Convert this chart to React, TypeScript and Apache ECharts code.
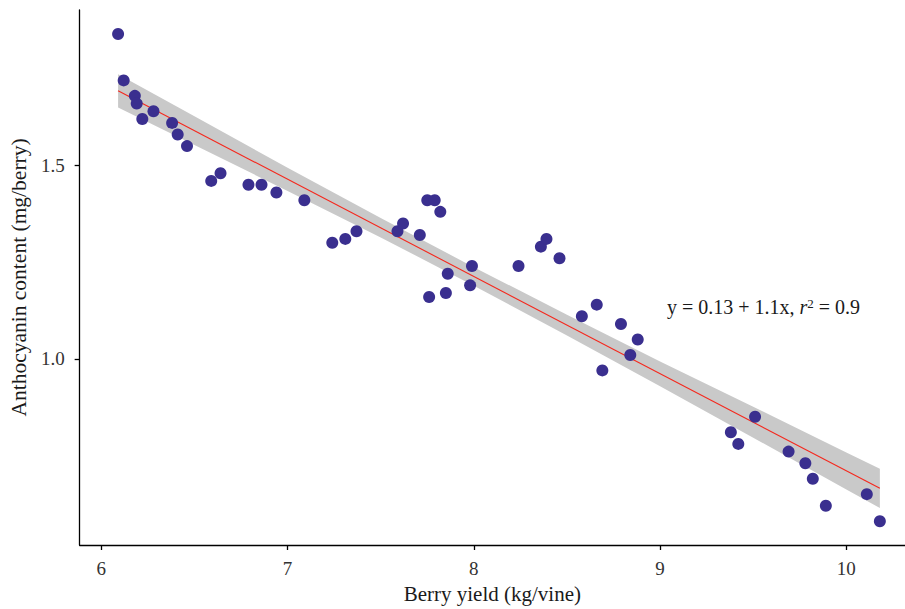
import React, { useEffect, useRef } from "react";
import * as echarts from "echarts";

// Observed points (berry yield kg/vine, anthocyanin mg/berry)
const yieldX = [6.09, 6.12, 6.18, 6.19, 6.22, 6.28, 6.38, 6.41, 6.46, 6.59, 6.64, 6.79, 6.86, 6.94, 7.09, 7.24, 7.31, 7.37, 7.59, 7.62, 7.71, 7.75, 7.79, 7.82, 7.76, 7.85, 7.86, 7.99, 7.98, 8.24, 8.36, 8.39, 8.46, 8.58, 8.66, 8.69, 8.79, 8.84, 8.88, 9.38, 9.42, 9.51, 9.69, 9.78, 9.82, 9.89, 10.11, 10.18];
const anthoY = [1.84, 1.72, 1.68, 1.66, 1.62, 1.64, 1.61, 1.58, 1.55, 1.46, 1.48, 1.45, 1.45, 1.43, 1.41, 1.30, 1.31, 1.33, 1.33, 1.35, 1.32, 1.41, 1.41, 1.38, 1.16, 1.17, 1.22, 1.24, 1.19, 1.24, 1.29, 1.31, 1.26, 1.11, 1.14, 0.97, 1.09, 1.01, 1.05, 0.81, 0.78, 0.85, 0.76, 0.73, 0.69, 0.62, 0.65, 0.58];

// Fitted line
const fitX = [6.09, 10.18];
const fitY = [1.693, 0.665];

// Confidence band
const bandX = [6.09, 6.5, 7, 7.5, 8, 8.5, 9, 9.5, 10, 10.18];
const bandUpper = [1.736, 1.627, 1.494, 1.364, 1.237, 1.114, 0.993, 0.876, 0.758, 0.716];
const bandLower = [1.650, 1.553, 1.434, 1.314, 1.189, 1.060, 0.929, 0.796, 0.662, 0.614];

const xTicks = [6, 7, 8, 9, 10];
const yTicks = [1.0, 1.5];

const xTitle = "Berry yield (kg/vine)";
const yTitle = "Anthocyanin content (mg/berry)";

const FONT = "'Liberation Serif', 'DejaVu Serif', serif";

export default function App() {
  const ref = useRef<HTMLDivElement>(null);
  useEffect(() => {
    if (!ref.current) return;
    const chart = echarts.init(ref.current, null, { renderer: "svg" });
    const points = yieldX.map((x, i) => [x, anthoY[i]]);
    const fit = fitX.map((x, i) => [x, fitY[i]]);
    chart.setOption({
      animation: false,
      backgroundColor: "#ffffff",
      grid: { left: 79, top: 10, right: 0, bottom: 60, containLabel: false },
      xAxis: {
        type: "value",
        min: 5.8836,
        max: 10.315,
        name: xTitle,
        nameLocation: "middle",
        nameGap: 38,
        nameTextStyle: { fontFamily: FONT, fontSize: 21, color: "#1a1a1a" },
        axisLine: { show: true, onZero: false, lineStyle: { color: "#000", width: 1.3 } },
        axisTick: { show: true, inside: false, length: 5, customValues: xTicks, lineStyle: { color: "#000", width: 1.3 } },
        axisLabel: { customValues: xTicks, fontFamily: FONT, fontSize: 19, color: "#333", margin: 14, formatter: (v: number) => String(v) },
        splitLine: { show: false },
      },
      yAxis: {
        type: "value",
        min: 0.5185,
        max: 1.902,
        name: yTitle,
        nameLocation: "middle",
        nameGap: 49,
        nameRotate: 90,
        nameTextStyle: { fontFamily: FONT, fontSize: 21.5, color: "#1a1a1a" },
        axisLine: { show: true, onZero: false, lineStyle: { color: "#000", width: 1.3 } },
        axisTick: { show: true, inside: false, length: 5, customValues: yTicks, lineStyle: { color: "#000", width: 1.3 } },
        axisLabel: { customValues: yTicks, fontFamily: FONT, fontSize: 19, color: "#333", margin: 15, formatter: (v: number) => v.toFixed(1) },
        splitLine: { show: false },
      },
      series: [
        {
          type: "custom",
          z: 1,
          silent: true,
          data: [[bandX[0], bandUpper[0]]],
          renderItem: (params: any, api: any) => {
            const pts: number[][] = [];
            for (let i = 0; i < bandX.length; i++) pts.push(api.coord([bandX[i], bandUpper[i]]));
            for (let i = bandX.length - 1; i >= 0; i--) pts.push(api.coord([bandX[i], bandLower[i]]));
            return { type: "polygon", shape: { points: pts }, style: { fill: "#c9c9c9" } };
          },
        },
        {
          type: "line",
          z: 2,
          data: fit,
          showSymbol: false,
          symbol: "none",
          lineStyle: { color: "#f5281d", width: 1.1 },
          silent: true,
        },
        {
          type: "scatter",
          z: 3,
          data: points,
          symbol: "circle",
          symbolSize: 12,
          itemStyle: { color: "#3a2f8f", opacity: 1 },
        },
      ],
      graphic: [
        {
          type: "text",
          left: 667,
          top: 297,
          style: {
            text: "y = 0.13 + 1.1x, {i|r}{s|2} = 0.9",
            fontFamily: FONT,
            fontSize: 20,
            fill: "#1a1a1a",
            rich: {
              i: { fontFamily: FONT, fontSize: 20, fontStyle: "italic", fill: "#1a1a1a" },
              s: { fontFamily: FONT, fontSize: 13, verticalAlign: "top", fill: "#1a1a1a" },
            },
          },
        },
      ],
    });
    return () => chart.dispose();
  }, []);
  return (
    <div
      ref={ref}
      style={{ position: "fixed", left: 0, top: 0, width: 905, height: 609, background: "#fff" }}
    />
  );
}
